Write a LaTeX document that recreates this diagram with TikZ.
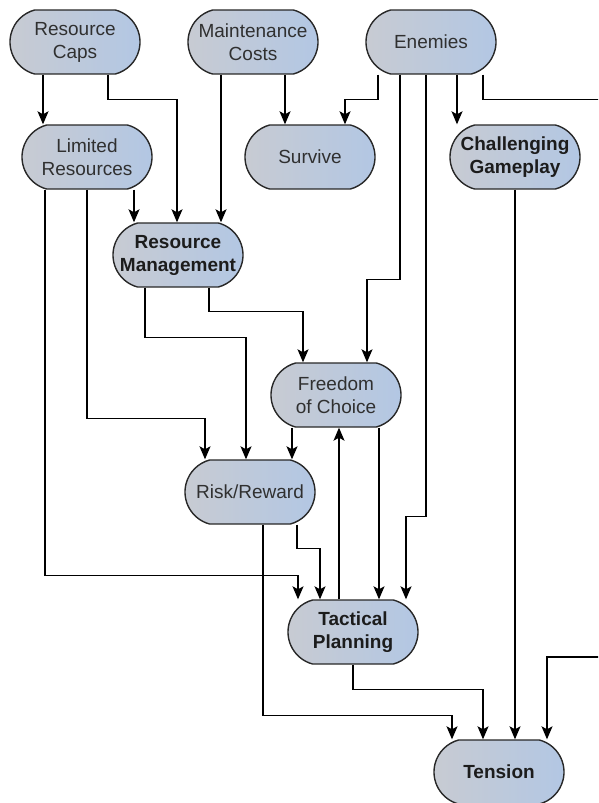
\documentclass[tikz,border=0pt]{standalone}
\usepackage{fontspec}
\setmainfont{Liberation Sans}
\usetikzlibrary{arrows.meta,calc,shapes.misc}
\definecolor{pillL}{RGB}{200,203,210}
\definecolor{pillR}{RGB}{178,199,228}
\definecolor{pillBorder}{RGB}{40,40,40}
\definecolor{txtReg}{RGB}{48,48,48}
\definecolor{txtBold}{RGB}{28,28,28}
\tikzset{
  pill/.style={rounded rectangle, rounded rectangle arc length=150,
    draw=pillBorder, line width=1.4pt,
    minimum width=130pt, minimum height=64pt, inner sep=0pt,
    left color=pillL, right color=pillR, align=center,
    font=\fontsize{19}{23}\selectfont, text=txtReg},
  keypill/.style={pill, font=\fontsize{19}{23}\selectfont\bfseries, text=txtBold},
  arr/.style={draw=black, line width=1.3pt,
    -{Stealth[length=13pt,width=11pt,inset=3pt]}},
}
\begin{document}
\begin{tikzpicture}[x=1pt,y=-1pt]
\path[use as bounding box] (0,0) rectangle (598,803);
\clip (0,0) rectangle (598,803);

% boxes
\node[pill]    (rc) at (75,42)   {Resource\\Caps};
\node[pill]    (mc) at (253,42)  {Maintenance\\Costs};
\node[pill]    (en) at (431,42)  {Enemies};
\node[pill]    (lr) at (87,157)  {Limited\\Resources};
\node[pill]    (sv) at (310,157) {Survive};
\node[keypill] (cg) at (515,157) {Challenging\\Gameplay};
\node[keypill] (rm) at (178,255) {Resource\\Management};
\node[pill]    (fc) at (336,395) {Freedom\\of Choice};
\node[pill]    (rr) at (250,492) {Risk/Reward};
\node[keypill] (tp) at (353,632) {Tactical\\Planning};
\node[keypill] (te) at (499,772) {Tension};

% waypoint past the right edge for the Enemies -> Tension route
\coordinate (offR) at (615,657);

% connectors
\draw[arr] ([xshift=-32]rc.south) -- ([xshift=-44]lr.north);
\draw[arr] ([xshift=33]rc.south) -- ++(0,25) -| ([xshift=-1]rm.north);
\draw[arr] ([xshift=-32]mc.south) -- ([xshift=43]rm.north);
\draw[arr] ([xshift=32]mc.south) -- ([xshift=-25]sv.north);
\draw[arr] ([xshift=47]lr.south) -- ([xshift=-44]rm.north);
\draw[arr] (lr.south) -- ++(0,229) -| ([xshift=-45]rr.north);
\draw[arr] ([xshift=-42]lr.south) -- ++(0,386) -| ([xshift=-55]tp.north);
\draw[arr] ([xshift=-33]rm.south) -- ++(0,50) -| ([xshift=-4]rr.north);
\draw[arr] ([xshift=31]rm.south) -- ++(0,24) -| ([xshift=-33]fc.north);
\draw[arr] ([xshift=-53]en.south) -- ++(0,25) -| ([xshift=35]sv.north);
\draw[arr] ([xshift=-31]en.south) -- ++(0,205) -| ([xshift=31]fc.north);
\draw[arr] ([xshift=-5]en.south) -- ++(0,442) -| ([xshift=53]tp.north);
\draw[arr] ([xshift=26]en.south) -- ([xshift=-58]cg.north);
\draw[arr] ([xshift=52]en.south) -- ++(0,25) -| (offR) -| ([xshift=48]te.north);
\draw[arr] ([xshift=-44]fc.south) -- ([xshift=42]rr.north);
\draw[arr] ([xshift=-14]tp.north) -- ([xshift=3]fc.south);
\draw[arr] ([xshift=43]fc.south) -- ([xshift=26]tp.north);
\draw[arr] ([xshift=47]rr.south) -- ++(0,24) -| ([xshift=-33]tp.north);
\draw[arr] ([xshift=13]rr.south) -- ++(0,191) -| ([xshift=-47]te.north);
\draw[arr] (tp.south) -- ++(0,25) -| ([xshift=-16]te.north);
\draw[arr] (cg.south) -- ([xshift=16]te.north);
\end{tikzpicture}
\end{document}
